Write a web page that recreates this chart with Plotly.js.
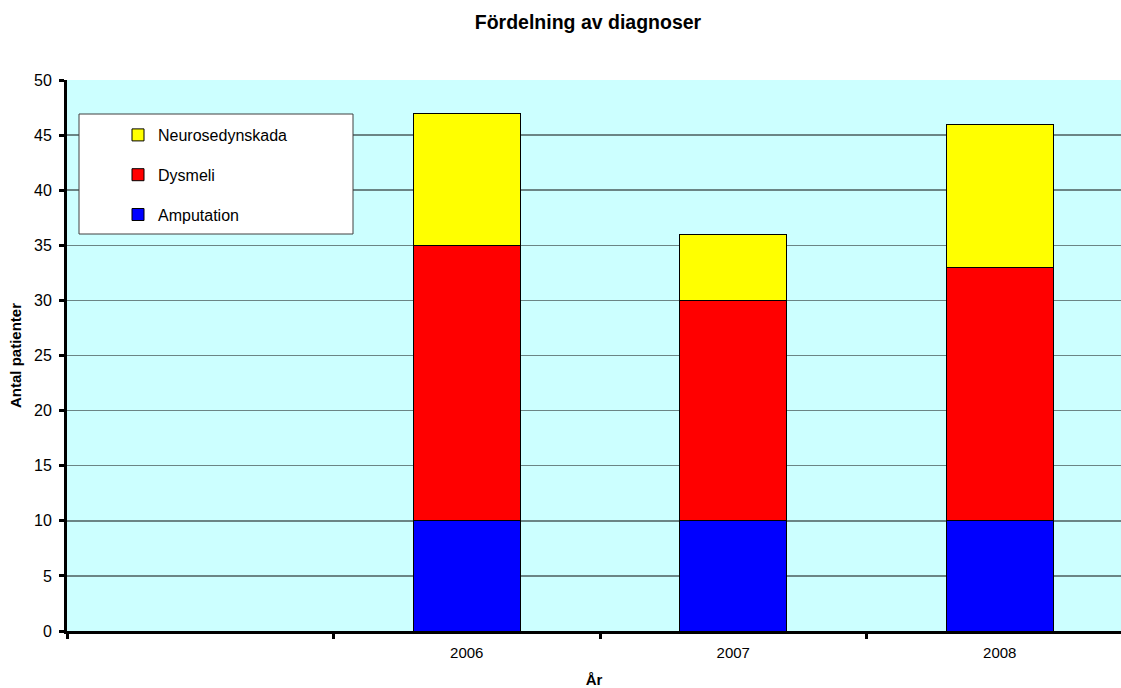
<!DOCTYPE html>
<html>
<head>
<meta charset="utf-8">
<script src="https://cdn.plot.ly/plotly-3.0.1.min.js"></script>
<style>html,body{margin:0;padding:0;background:#fff;}#chart{width:1121px;height:688px;}</style>
</head>
<body>
<div id="chart"></div>
<script>
var categories = [' ', '2006', '2007', '2008'];
var amputation = [null, 10, 10, 10];
var dysmeli = [null, 25, 20, 23];
var neurosedynskada = [null, 12, 6, 13];
var seriesNames = ['Amputation', 'Dysmeli', 'Neurosedynskada'];
var seriesColors = ['#0000FF', '#FF0000', '#FFFF00'];
var yTicks = [0, 5, 10, 15, 20, 25, 30, 35, 40, 45, 50];

var FONT = 'Liberation Sans, Arial, sans-serif';
var seriesValues = [amputation, dysmeli, neurosedynskada];
var traces = seriesValues.map(function (vals, i) {
  return {
    type: 'bar',
    name: seriesNames[i],
    x: categories,
    y: vals,
    width: 0.4,
    legendgroup: 'g' + i,
    legendrank: 100 - i,
    marker: {color: seriesColors[i], line: {color: '#000000', width: 1}},
    hoverinfo: 'x+y+name'
  };
});

var layout = {
  width: 1121,
  height: 688,
  barmode: 'stack',
  paper_bgcolor: '#FFFFFF',
  plot_bgcolor: '#CCFFFF',
  margin: {l: 67, r: 0, t: 80, b: 57},
  font: {family: FONT, size: 16, color: '#000000'},
  title: {
    text: '<b>Fördelning av diagnoser</b>',
    font: {family: FONT, size: 19.5, color: '#000000'},
    xref: 'container', x: 0.5245, xanchor: 'center',
    yref: 'container', y: 1 - 22 / 688, yanchor: 'middle'
  },
  xaxis: {
    type: 'category',
    categoryorder: 'array',
    categoryarray: categories,
    range: [-0.5, 3.455],
    showgrid: false,
    zeroline: false,
    showline: true,
    linecolor: '#000000',
    linewidth: 3,
    ticks: 'outside',
    tickson: 'boundaries',
    ticklen: 5,
    tickwidth: 3,
    tickcolor: '#000000',
    ticklabelstandoff: 6,
    tickfont: {family: FONT, size: 15, color: '#000000'},
    title: {text: '<b>År</b>', font: {family: FONT, size: 15, color: '#000000'}, standoff: 17},
    fixedrange: true
  },
  yaxis: {
    range: [0, 50],
    tickvals: yTicks,
    ticktext: yTicks.map(String),
    showgrid: true,
    gridcolor: '#6b8585',
    gridwidth: 1.5,
    zeroline: false,
    showline: true,
    linecolor: '#000000',
    linewidth: 3,
    ticks: 'outside',
    ticklen: 5,
    tickwidth: 3,
    tickcolor: '#000000',
    ticklabelstandoff: 4,
    tickfont: {family: FONT, size: 16, color: '#000000'},
    title: {text: '<b>Antal patienter</b>', font: {family: FONT, size: 15, color: '#000000'}, standoff: 9},
    automargin: false,
    fixedrange: true
  },
  showlegend: true,
  legend: {
    traceorder: 'grouped',
    tracegroupgap: 16,
    bgcolor: 'rgba(0,0,0,0)',
    borderwidth: 0,
    font: {family: FONT, size: 16, color: '#000000'},
    xref: 'paper', yref: 'paper',
    x: (118 - 67) / 1054, xanchor: 'left',
    y: (631 - 118) / 551, yanchor: 'top'
  },
  shapes: [{
    type: 'rect', xref: 'paper', yref: 'paper', layer: 'above',
    x0: (79 - 67) / 1054, x1: (353 - 67) / 1054,
    y0: (631 - 234) / 551, y1: (631 - 114) / 551,
    fillcolor: '#FFFFFF', line: {color: '#404040', width: 1}
  }]
};

Plotly.newPlot('chart', traces, layout, {displayModeBar: false, staticPlot: true});
</script>
</body>
</html>
